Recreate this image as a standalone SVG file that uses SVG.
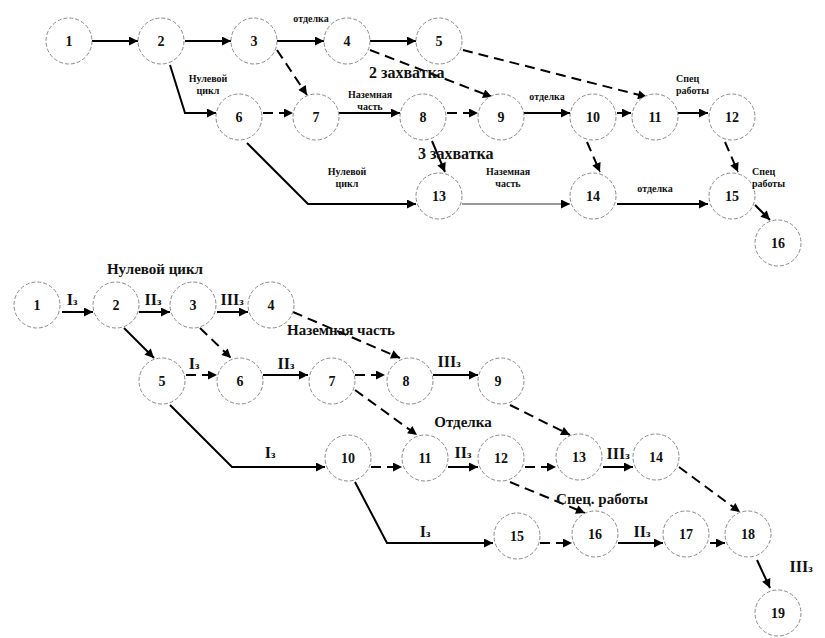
<svg xmlns="http://www.w3.org/2000/svg" width="825" height="638" viewBox="0 0 825 638">
<defs>
<marker id="ah" viewBox="0 0 10 10" refX="10" refY="5" markerWidth="12" markerHeight="9" orient="auto" markerUnits="userSpaceOnUse">
<path d="M0,0 L10,5 L0,10 z" fill="#000"/>
</marker>
</defs>
<style>
.n circle{fill:#fff;stroke:#8a8a8a;stroke-width:1;stroke-dasharray:4 2}
.n text{font-family:"Liberation Serif","Times New Roman",serif;font-weight:bold;font-size:14px;text-anchor:middle;fill:#111}
.c path{fill:none;stroke:#000;stroke-width:2;marker-end:url(#ah)}
.c path.d{stroke-dasharray:10 6}
.c path.t{stroke-width:1.2;stroke:#333}
.l{font-family:"Liberation Serif","Times New Roman",serif;font-weight:bold;fill:#111}
.s{font-size:10px;text-anchor:middle}
.sl{font-size:10px}
.b{font-size:16px}
.m{font-size:15px;text-anchor:middle}
.k{font-size:16px;text-anchor:middle}
.k tspan{font-size:11px}
</style>
<rect width="825" height="638" fill="#fff"/>

<g id="connectors" class="c">
<!-- top -->
<path d="M92,41 L138,41"/>
<path d="M185,41 L231,41"/>
<path d="M277,41 L324,41"/>
<path d="M370,41 L416,41"/>
<path class="d" d="M277,50 L307,95"/>
<path class="d" d="M370,50 L492,97"/>
<path class="d" d="M463,50 L647,97"/>
<path d="M170,65 L185,113 L216,113"/>
<path class="d" d="M263,113 L293,113"/>
<path d="M339,113 L400,113"/>
<path class="d" d="M447,113 L478,113"/>
<path d="M524,113 L570,113"/>
<path d="M617,113 L631,113"/>
<path d="M678,113 L708,113"/>
<path d="M432,141 L445,172"/>
<path d="M247,143 L308,204 L416,204"/>
<path class="t" d="M462,204 L570,204"/>
<path class="d" d="M587,142 L600,172"/>
<path d="M617,204 L708,204"/>
<path class="d" d="M725,142 L738,172"/>
<path d="M755,205 L770,220"/>
<!-- bottom -->
<path d="M62,312 L93,312"/>
<path d="M139,312 L170,312"/>
<path d="M217,312 L248,312"/>
<path d="M124,328 L154,358"/>
<path class="d" d="M200,328 L231,358"/>
<path class="d" d="M293,312 L400,358"/>
<path class="d" d="M186,375 L217,375"/>
<path d="M263,375 L308,375"/>
<path class="d" d="M355,375 L385,375"/>
<path class="d" d="M355,390 L417,435"/>
<path d="M433,375 L478,375"/>
<path class="d" d="M510,405 L570,435"/>
<path d="M170,405 L232,467 L325,467"/>
<path class="d" d="M371,467 L402,467"/>
<path d="M448,467 L478,467"/>
<path class="d" d="M525,467 L556,467"/>
<path d="M603,467 L633,467"/>
<path class="d" d="M510,482 L585,513"/>
<path class="d" d="M679,467 L740,512"/>
<path d="M355,482 L387,543 L493,543"/>
<path class="d" d="M540,543 L572,543"/>
<path d="M618,543 L663,543"/>
<path d="M710,543 L725,543"/>
<path d="M757,560 L770,588"/>
</g>

<g id="top-nodes" class="n">
<g id="t1"><circle cx="69" cy="41" r="23"/><text x="69" y="46">1</text></g>
<g id="t2"><circle cx="161" cy="41" r="23"/><text x="161" y="46">2</text></g>
<g id="t3"><circle cx="254" cy="41" r="23"/><text x="254" y="46">3</text></g>
<g id="t4"><circle cx="347" cy="41" r="23"/><text x="347" y="46">4</text></g>
<g id="t5"><circle cx="439" cy="41" r="23"/><text x="439" y="46">5</text></g>
<g id="t6"><circle cx="239" cy="117" r="23"/><text x="239" y="122">6</text></g>
<g id="t7"><circle cx="316" cy="117" r="23"/><text x="316" y="122">7</text></g>
<g id="t8"><circle cx="423" cy="117" r="23"/><text x="423" y="122">8</text></g>
<g id="t9"><circle cx="501" cy="117" r="23"/><text x="501" y="122">9</text></g>
<g id="t10"><circle cx="593" cy="117" r="23"/><text x="593" y="122">10</text></g>
<g id="t11"><circle cx="655" cy="117" r="23"/><text x="655" y="122">11</text></g>
<g id="t12"><circle cx="732" cy="117" r="23"/><text x="732" y="122">12</text></g>
<g id="t13"><circle cx="439" cy="196" r="23"/><text x="439" y="201">13</text></g>
<g id="t14"><circle cx="593" cy="196" r="23"/><text x="593" y="201">14</text></g>
<g id="t15"><circle cx="732" cy="196" r="23"/><text x="732" y="201">15</text></g>
<g id="t16"><circle cx="778" cy="243" r="23"/><text x="778" y="248">16</text></g>
</g>

<g id="bottom-nodes" class="n">
<g id="b1"><circle cx="37" cy="305" r="23"/><text x="37" y="310">1</text></g>
<g id="b2"><circle cx="116" cy="305" r="23"/><text x="116" y="310">2</text></g>
<g id="b3"><circle cx="193" cy="305" r="23"/><text x="193" y="310">3</text></g>
<g id="b4"><circle cx="271" cy="305" r="23"/><text x="271" y="310">4</text></g>
<g id="b5"><circle cx="162" cy="381" r="23"/><text x="162" y="386">5</text></g>
<g id="b6"><circle cx="240" cy="381" r="23"/><text x="240" y="386">6</text></g>
<g id="b7"><circle cx="332" cy="381" r="23"/><text x="332" y="386">7</text></g>
<g id="b8"><circle cx="410" cy="381" r="23"/><text x="406" y="386">8</text></g>
<g id="b9"><circle cx="501" cy="381" r="23"/><text x="498" y="386">9</text></g>
<g id="b10"><circle cx="348" cy="458" r="23"/><text x="348" y="463">10</text></g>
<g id="b11"><circle cx="425" cy="458" r="23"/><text x="425" y="463">11</text></g>
<g id="b12"><circle cx="501" cy="458" r="23"/><text x="501" y="463">12</text></g>
<g id="b13"><circle cx="579" cy="457" r="23"/><text x="579" y="462">13</text></g>
<g id="b14"><circle cx="656" cy="457" r="23"/><text x="656" y="462">14</text></g>
<g id="b15"><circle cx="517" cy="536" r="23"/><text x="517" y="541">15</text></g>
<g id="b16"><circle cx="595" cy="534" r="23"/><text x="595" y="539">16</text></g>
<g id="b17"><circle cx="686" cy="534" r="23"/><text x="686" y="539">17</text></g>
<g id="b18"><circle cx="748" cy="534" r="23"/><text x="748" y="539">18</text></g>
<g id="b19"><circle cx="778" cy="613" r="23"/><text x="778" y="618">19</text></g>
</g>

<g id="labels" class="l">
<text class="s" x="311" y="22">отделка</text>
<text class="s" x="208" y="82">Нулевой</text>
<text class="s" x="208" y="94">цикл</text>
<text class="s" x="370" y="98">Наземная</text>
<text class="s" x="370" y="110">часть</text>
<text class="b" x="369" y="78">2 захватка</text>
<text class="s" x="547" y="100">отделка</text>
<text class="sl" x="676" y="82">Спец</text>
<text class="sl" x="676" y="94">работы</text>
<text class="b" x="418" y="159">3 захватка</text>
<text class="s" x="347" y="175">Нулевой</text>
<text class="s" x="347" y="187">цикл</text>
<text class="s" x="508" y="175">Наземная</text>
<text class="s" x="508" y="187">часть</text>
<text class="s" x="655" y="192">отделка</text>
<text class="sl" x="752" y="175">Спец</text>
<text class="sl" x="752" y="187">работы</text>

<text class="m" x="155" y="274">Нулевой цикл</text>
<text class="k" x="72" y="305">I<tspan>з</tspan></text>
<text class="k" x="153" y="305">II<tspan>з</tspan></text>
<text class="k" x="232" y="305">III<tspan>з</tspan></text>
<text class="m" x="341" y="335">Наземная часть</text>
<text class="k" x="194" y="369">I<tspan>з</tspan></text>
<text class="k" x="286" y="369">II<tspan>з</tspan></text>
<text class="k" x="449" y="367">III<tspan>з</tspan></text>
<text class="m" x="463" y="427">Отделка</text>
<text class="k" x="270" y="458">I<tspan>з</tspan></text>
<text class="k" x="463" y="458">II<tspan>з</tspan></text>
<text class="k" x="618" y="459">III<tspan>з</tspan></text>
<text class="m" x="602" y="504">Спец. работы</text>
<text class="k" x="425" y="537">I<tspan>з</tspan></text>
<text class="k" x="642" y="537">II<tspan>з</tspan></text>
<text class="k" x="801" y="572">III<tspan>з</tspan></text>
</g>
</svg>
